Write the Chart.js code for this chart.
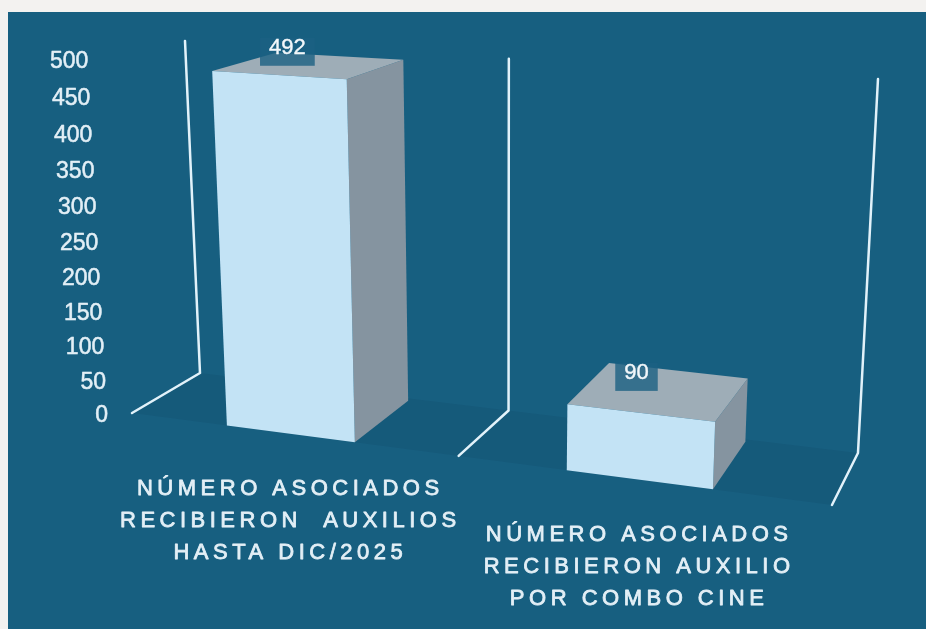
<!DOCTYPE html>
<html><head><meta charset="utf-8">
<script src="https://cdn.jsdelivr.net/npm/chart.js@4.4.1/dist/chart.umd.min.js"></script>
<style>html,body{margin:0;padding:0;background:#f3f2f0;overflow:hidden}canvas{display:block}</style>
</head><body>
<canvas id="c" width="926" height="629"></canvas>
<script>
// ---- data ----
const categories = [
  ["NÚMERO ASOCIADOS", "RECIBIERON  AUXILIOS", "HASTA DIC/2025"],
  ["NÚMERO ASOCIADOS", "RECIBIERON AUXILIO", "POR COMBO CINE"]
];
const values = [492, 90];
const yTicks = [0, 50, 100, 150, 200, 250, 300, 350, 400, 450, 500];
const yMin = 0, yMax = 500, yStep = 50;

// ---- 3D view (camera) ----
const CAM = {a:596.0, b:81.75, c:132, d:28.89, e:-14.35, f:413, g:-0.12497, h:0.06877, p:-25.36, q:-0.0504, r:-357};
function project(X, Y, Z) {
  const w = 1 + CAM.g * X + CAM.h * Z + CAM.q * Y;
  return {x: (CAM.a * X + CAM.b * Z + CAM.p * Y + CAM.c) / w,
          y: (CAM.d * X + CAM.e * Z + CAM.r * Y + CAM.f) / w};
}
const DEPTH = 0.95;
const COLORS = {bg:'#f3f2f0', panel:'#175f80', front:'#c3e3f5', top:'#9eadb7', side:'#8594a0',
  line:'#e2f2fa', text:'#e3eff6', box:'rgba(28,96,130,0.8)', floor:'rgba(0,20,40,0.06)'};

function poly(ctx, pts, fill) {
  ctx.beginPath();
  pts.forEach((q, i) => { const s = project(q[0], q[1], q[2]); i ? ctx.lineTo(s.x, s.y) : ctx.moveTo(s.x, s.y); });
  ctx.closePath(); ctx.fillStyle = fill; ctx.fill();
}
function boldText(ctx, t, x, y, w) {
  ctx.fillText(t, x, y);
  ctx.lineWidth = w; ctx.strokeText(t, x, y);
}

const bar3d = {
  id: 'bar3d',
  beforeDraw(chart) {
    const ctx = chart.ctx;
    ctx.save();
    ctx.fillStyle = COLORS.bg; ctx.fillRect(0, 0, chart.width, chart.height);
    ctx.fillStyle = COLORS.panel; ctx.fillRect(8, 12, chart.width - 8, chart.height - 12);
    ctx.restore();
  },
  afterDatasetsDraw(chart) {
    const ctx = chart.ctx, area = chart.chartArea;
    const xs = chart.scales.x, ys = chart.scales.y;
    const nx = px => (px - area.left) / (area.right - area.left);
    const y0 = ys.getPixelForValue(yMin), y1 = ys.getPixelForValue(yMax);
    const ny = py => (y0 - py) / (y0 - y1);
    ctx.save();
    // floor
    poly(ctx, [[0,0,0],[1,0,0],[1,0,1],[0,0,1]], COLORS.floor);
    // category boundary lines (floor edge + back wall)
    const n = chart.data.labels.length;
    const step = n > 1 ? xs.getPixelForValue(1) - xs.getPixelForValue(0) : (area.right - area.left);
    ctx.strokeStyle = COLORS.line; ctx.lineWidth = 2.5; ctx.lineCap = 'round'; ctx.lineJoin = 'round';
    for (let i = 0; i <= n; i++) {
      const X = nx(xs.getPixelForValue(Math.min(i, n - 1)) + (i === n ? step / 2 : -step / 2));
      const a = project(X, 0, 0), b = project(X, 0, 1), c = project(X, 1, 1);
      ctx.beginPath(); ctx.moveTo(a.x, a.y); ctx.lineTo(b.x, b.y); ctx.lineTo(c.x, c.y); ctx.stroke();
    }
    // bars
    const meta = chart.getDatasetMeta(0);
    const bars = meta.data.map(el => {
      const pr = el.getProps(['x', 'y', 'width'], true);
      return {X0: nx(pr.x - pr.width / 2), X1: nx(pr.x + pr.width / 2), Xc: nx(pr.x), Yt: ny(pr.y)};
    });
    bars.forEach(b => {
      poly(ctx, [[b.X1,0,0],[b.X1,0,DEPTH],[b.X1,b.Yt,DEPTH],[b.X1,b.Yt,0]], COLORS.side);
      poly(ctx, [[b.X0,b.Yt,0],[b.X1,b.Yt,0],[b.X1,b.Yt,DEPTH],[b.X0,b.Yt,DEPTH]], COLORS.top);
      poly(ctx, [[b.X0,0,0],[b.X1,0,0],[b.X1,b.Yt,0],[b.X0,b.Yt,0]], COLORS.front);
    });
    // value labels
    ctx.font = '22px "Liberation Sans", Arial, sans-serif';
    ctx.textAlign = 'center'; ctx.textBaseline = 'middle';
    bars.forEach((b, i) => {
      const p = project(b.Xc, b.Yt, 0.5);
      const txt = String(chart.data.datasets[0].data[i]);
      const tw = ctx.measureText(txt).width;
      const bw = tw + 18, bh = 28, cx = p.x - 24, bottom = p.y + 1;
      ctx.fillStyle = COLORS.box; ctx.fillRect(cx - bw / 2, bottom - bh, bw, bh);
      ctx.fillStyle = '#f2f7fa'; ctx.strokeStyle = '#f2f7fa';
      boldText(ctx, txt, cx, bottom - bh + 10, 0.4);
    });
    // y tick labels
    ctx.textAlign = 'right'; ctx.font = '23px "Liberation Sans", Arial, sans-serif';
    ctx.fillStyle = COLORS.text; ctx.strokeStyle = COLORS.text;
    yTicks.forEach(v => {
      const p = project(0, ny(ys.getPixelForValue(v)), 0);
      boldText(ctx, String(v), p.x - 24, p.y + 3, 0.5);
    });
    // category labels
    const ls = 4.5;
    ctx.font = '22px "Liberation Sans", Arial, sans-serif';
    ctx.letterSpacing = ls + 'px';
    ctx.textAlign = 'center';
    bars.forEach((b, i) => {
      const p = project(b.Xc, 0, 0);
      const lines = chart.data.labels[i];
      lines.forEach((t, k) => boldText(ctx, t, p.x - 2 + ls / 2, p.y + 55 + k * 32, 0.8));
    });
    ctx.restore();
  }
};

new Chart(document.getElementById('c').getContext('2d'), {
  type: 'bar',
  data: {labels: categories, datasets: [{data: values, backgroundColor: 'rgba(0,0,0,0)', borderWidth: 0,
    categoryPercentage: 0.8, barPercentage: 0.49}]},
  options: {
    responsive: false, animation: false, devicePixelRatio: 1, events: [],
    layout: {padding: {left: 150, right: 80, top: 60, bottom: 150}},
    plugins: {legend: {display: false}, tooltip: {enabled: false}},
    scales: {
      x: {display: false, offset: true},
      y: {display: false, min: yMin, max: yMax, ticks: {stepSize: yStep}}
    }
  },
  plugins: [bar3d]
});
</script>
</body></html>
